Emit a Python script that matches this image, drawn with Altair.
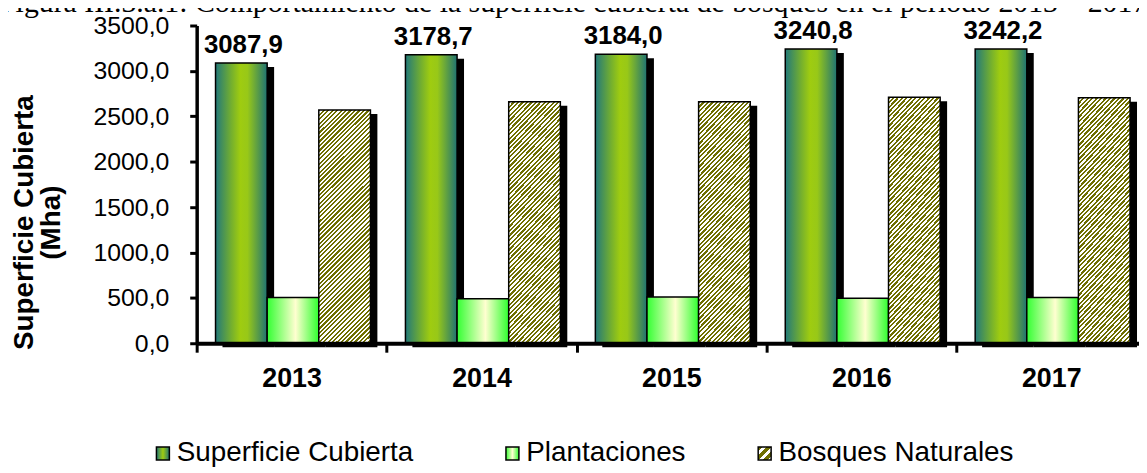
import altair as alt
import pandas as pd

years = ["2013", "2014", "2015", "2016", "2017"]
series = ["Superficie Cubierta", "Plantaciones", "Bosques Naturales"]
superficie = [3087.9, 3178.7, 3184.0, 3240.8, 3242.2]
plantaciones = [505, 490, 510, 495, 505]
bosques = [2570, 2660, 2660, 2710, 2705]
y_ticks = [0, 500, 1000, 1500, 2000, 2500, 3000, 3500]
y_title = ["Superficie Cubierta", "(Mha)"]
fig_title = ["Figura III.3.a.1: Comportamiento de la superficie cubierta de bosques en el período 2013 – 2017."]

rows = []
for i, yr in enumerate(years):
    for s, vals in zip(series, [superficie, plantaciones, bosques]):
        rows.append({"year": yr, "series": s, "value": vals[i],
                     "label": f"{vals[i]:.1f}".replace(".", ",")})
df = pd.DataFrame(rows)
df_title = pd.DataFrame({"t": fig_title})

# ---- styles ----
g_sup = alt.LinearGradient(gradient="linear", x1=0, y1=0, x2=1, y2=0, stops=[
    alt.GradientStop(offset=0, color="#22797a"),
    alt.GradientStop(offset=0.3, color="#72ae30"),
    alt.GradientStop(offset=0.48, color="#9fcc10"),
    alt.GradientStop(offset=0.62, color="#98c818"),
    alt.GradientStop(offset=1, color="#1f7373"),
])
g_pla = alt.LinearGradient(gradient="linear", x1=0, y1=0, x2=1, y2=0, stops=[
    alt.GradientStop(offset=0, color="#33ff33"),
    alt.GradientStop(offset=0.55, color="#ffffd0"),
    alt.GradientStop(offset=1, color="#2eff2e"),
])
N = 64
olive, white = "#6f6f00", "#ffffff"
stops = []
for k in range(N):
    a, b, c = k / N, (k + 0.5) / N, (k + 1) / N
    stops += [alt.GradientStop(offset=a, color=olive), alt.GradientStop(offset=b, color=olive),
              alt.GradientStop(offset=b, color=white), alt.GradientStop(offset=c, color=white)]
g_bos = alt.LinearGradient(gradient="linear", x1=0, y1=0, x2=0.257, y2=1.164, stops=stops)

def gexpr(stops_list, x2=1, y2=0):
    s = ",".join("{offset:%s,color:'%s'}" % (o, c) for o, c in stops_list)
    return alt.ExprRef("{gradient:'linear',x1:0,y1:0,x2:%s,y2:%s,stops:[%s]}" % (x2, y2, s))

leg_sup = gexpr([(0, "#22797a"), (0.5, "#9fcc10"), (1, "#1f7373")])
leg_pla = gexpr([(0, "#33ff33"), (0.5, "#ffffd0"), (1, "#2eff2e")])
bst = []
for k in range(3):
    a, b, c = k / 3, (k + 0.55) / 3, (k + 1) / 3
    bst += [(a, olive), (b, olive), (b, white), (c, white)]
leg_bos = gexpr(bst, 1, 1)

base = alt.Chart(df)

x_enc = alt.X("year:N",
              scale=alt.Scale(domain=years, range=[0, 956.25], paddingInner=0, paddingOuter=0),
              axis=alt.Axis(title=None, domainColor="black", domainWidth=4, tickColor="black",
                            tickWidth=3, tickSize=9, tickBand="extent", labelFont="Liberation Sans",
                            labelFontWeight="bold", labelFontSize=27, labelColor="black",
                            labelPadding=14, labelAngle=0, zindex=1))

def xo(r0):
    return alt.XOffset("series:N",
                       scale=alt.Scale(domain=series, range=[r0, r0 + 156],
                                       paddingInner=0, paddingOuter=0))

y_enc = alt.Y("value:Q",
              scale=alt.Scale(domain=[0, 3500], nice=False, zero=True),
              axis=alt.Axis(values=y_ticks, grid=False, title=y_title,
                            labelExpr="replace(format(datum.value, '.1f'), '.', ',')",
                            labelFont="Liberation Sans", labelFontSize=25, labelColor="black",
                            labelPadding=21, domainColor="black", domainWidth=3.5,
                            tickColor="black", tickWidth=3, tickSize=7,
                            titleFont="Liberation Sans", titleFontWeight="bold", titleFontSize=28,
                            titleColor="black", titleAngle=270, titleAlign="center",
                            titleBaseline="alphabetic", titleLineHeight=27,
                            titleX=-165, titleY=198, zindex=1))

shadow = base.mark_bar(color="black", yOffset=4).encode(
    x=x_enc, xOffset=xo(26), y=y_enc)

def bars(name, fill):
    return base.transform_filter(alt.datum.series == name).mark_bar(
        fill=fill, stroke="black", strokeWidth=1.5).encode(x=x_enc, xOffset=xo(19), y=y_enc)

def legend_layer(name, rng, lx):
    return base.transform_filter(alt.datum.series == name).mark_bar(opacity=0).encode(
        x=x_enc, xOffset=xo(19), y=y_enc,
        color=alt.Color("series:N", scale=alt.Scale(domain=[name], range=[rng]),
                        legend=alt.Legend(title=None, orient="none", legendX=lx, legendY=417,
                                          symbolType="square", symbolSize=170,
                                          symbolStrokeColor="black", symbolStrokeWidth=1.5,
                                          symbolOpacity=1, labelFont="Liberation Sans",
                                          labelFontSize=28, labelColor="black", labelOffset=0,
                                          padding=0, labelLimit=400)))

labels = base.transform_filter(alt.datum.series == series[0]).mark_text(
    font="Liberation Sans", fontWeight="bold", fontSize=26, color="black",
    baseline="alphabetic", dy=-10, dx=28).encode(x=x_enc, xOffset=xo(19), y=y_enc, text="label:N")

title_layer = alt.Chart(df_title).mark_text(
    font="Liberation Serif", fontSize=30, color="black", align="left", baseline="alphabetic"
).encode(text="t:N", x=alt.value(-199), y=alt.value(-14))

chart = alt.layer(
    shadow,
    bars(series[0], g_sup),
    bars(series[1], g_pla),
    bars(series[2], g_bos),
    labels,
    legend_layer(series[0], leg_sup, -48),
    legend_layer(series[1], leg_pla, 304),
    legend_layer(series[2], leg_bos, 558),
    title_layer,
).resolve_scale(color="independent", xOffset="independent").properties(
    width=949, height=320,
    autosize=alt.AutoSizeParams(type="none"),
    padding={"left": 190, "top": 16, "right": 0, "bottom": 124},
).configure_view(stroke=None)

chart.save("out.html", embed_options={"renderer": "svg", "actions": False})
